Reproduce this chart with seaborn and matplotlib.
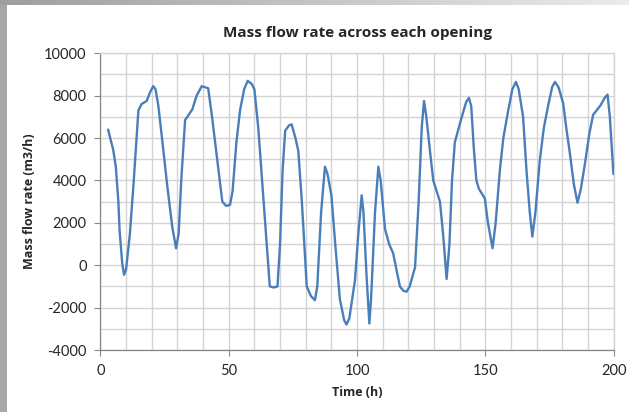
import numpy as np
import pandas as pd
import matplotlib
matplotlib.use("Agg")
import matplotlib.pyplot as plt
import seaborn as sns
from matplotlib.patches import Rectangle

time_h = [3, 5, 6, 7, 7.5, 8.5, 9.2, 10, 11.5, 13, 14.8, 16, 18, 19.5, 20.6, 21.5, 22.6, 24, 26, 28,
          29.5, 30.5, 31.5, 33, 35.8, 37.5, 39.5, 42, 43.5, 45.5, 47.5, 49, 50.5, 51.5, 53, 54.4, 56, 57.4,
          59, 60, 61.5, 63, 64.5, 66, 67.5, 69, 70, 71, 72, 73.5, 74.5, 76, 77.1, 78.5, 80.4, 82, 83.6,
          84.5, 86, 87.5, 88.5, 90, 91.5, 93.3, 95, 95.9, 97, 99.2, 100.5, 101.8, 102.5, 103.7, 104.8,
          105.5, 107, 108.3, 109.2, 110.9, 112.5, 114.1, 115.5, 116.7, 118, 119.3, 120.5, 122.6, 124,
          125.2, 126.1, 127, 128.4, 129.7, 131, 132.3, 133.5, 134.9, 136, 137, 138.1, 140.7, 142.5,
          143.6, 144.5, 145.5, 146.5, 147.5, 149.8, 151, 152.8, 154, 155.7, 157, 158.9, 160.5, 161.9,
          163, 164.7, 166, 167.3, 168.3, 169.5, 171.2, 172.8, 174.5, 176, 177.1, 178.5, 180.3, 181.5,
          182.9, 184.5, 185.9, 187.2, 188.8, 190.5, 192, 194.9, 196.5, 197.6, 198.5, 199.9]
flow_m3h = [6400, 5440, 4650, 3000, 1600, 100, -450, -200, 1500, 4000, 7300, 7600, 7750, 8200, 8450, 8300,
            7500, 6000, 3800, 1800, 800, 1500, 4000, 6850, 7350, 8000, 8450, 8350, 7000, 5000, 3000, 2800,
            2850, 3500, 5800, 7300, 8300, 8700, 8550, 8300, 6500, 4000, 1500, -1000, -1050, -1000, 1000,
            4500, 6350, 6600, 6650, 6000, 5400, 3000, -1000, -1450, -1650, -1000, 2500, 4650, 4300, 3300,
            1000, -1600, -2600, -2800, -2500, -700, 1500, 3300, 2500, -500, -2750, -1500, 2500, 4650,
            4000, 1700, 1000, 550, -300, -1000, -1200, -1250, -1000, -100, 3000, 6500, 7750, 7000, 5400,
            4000, 3500, 3000, 1500, -650, 1000, 4000, 5800, 6950, 7700, 7900, 7500, 5500, 4000, 3600, 3150,
            2000, 800, 2000, 4550, 6000, 7300, 8300, 8650, 8300, 7000, 4500, 2500, 1350, 2500, 4950, 6500,
            7550, 8400, 8650, 8400, 7650, 6500, 5300, 3800, 2950, 3600, 4800, 6200, 7100, 7550, 7900,
            8050, 7000, 4300]

x_ticks = [0, 50, 100, 150, 200]
y_ticks = [-4000, -2000, 0, 2000, 4000, 6000, 8000, 10000]

title = "Mass flow rate across each opening"
x_label = "Time (h)"
y_label = "Mass flow rate (m3/h)"

sns.set_style("white")
plt.rcParams["font.family"] = ["Lato", "DejaVu Sans"]
plt.rcParams["axes.unicode_minus"] = False

df = pd.DataFrame({"t": time_h, "v": flow_m3h})

fig = plt.figure(figsize=(6.29, 4.12), dpi=100)
fig.patch.set_facecolor("white")
ax = fig.add_axes([100.4 / 629, 1 - 350 / 412, (613.7 - 100.4) / 629, (350 - 53.3) / 412])

# frame of the screenshot
fig.patches.append(Rectangle((0, 0), 7 / 629, 1, transform=fig.transFigure,
                             facecolor="#a8a8a8", edgecolor="none", zorder=0))
n = 60
for i in range(n):
    c = 0.62 + 0.3 * i / (n - 1)
    fig.patches.append(Rectangle((i / n, 1 - 5 / 412), 1 / n + 0.001, 5 / 412,
                                 transform=fig.transFigure, facecolor=(c, c, c),
                                 edgecolor="none", zorder=0))

sns.lineplot(data=df, x="t", y="v", ax=ax, color="#4a7ebb", linewidth=1.7, zorder=3)
ax.lines[0].set_solid_joinstyle("round")

ax.set_xlim(0, 200)
ax.set_ylim(-4000, 10000)
ax.set_xticks(x_ticks)
ax.set_yticks(y_ticks)
ax.set_xticks(np.arange(0, 201, 10), minor=True)
ax.set_yticks(np.arange(-4000, 10001, 1000), minor=True)
ax.grid(True, which="both", color="#d4d4d4", linewidth=1.0, zorder=0)
ax.set_axisbelow(True)
ax.tick_params(axis="both", which="major", direction="out", length=4, width=0.8,
               color="#868686", labelsize=10.5, pad=6, left=True, bottom=True)
ax.tick_params(axis="both", which="minor", length=0)
for s in ["left", "bottom"]:
    ax.spines[s].set_color("#868686")
    ax.spines[s].set_linewidth(0.9)
for s in ["top", "right"]:
    ax.spines[s].set_color("#d4d4d4")
    ax.spines[s].set_linewidth(1.0)

bold_font = ["Open Sans", "DejaVu Sans"]
ax.set_title(title, fontsize=11, fontweight="bold", pad=12, family=bold_font)
ax.set_xlabel(x_label, fontsize=9, fontweight="bold", labelpad=6, family=bold_font)
ax.set_ylabel(y_label, fontsize=9, fontweight="bold", labelpad=6, family=bold_font)

fig.savefig("out.png", dpi=100)
